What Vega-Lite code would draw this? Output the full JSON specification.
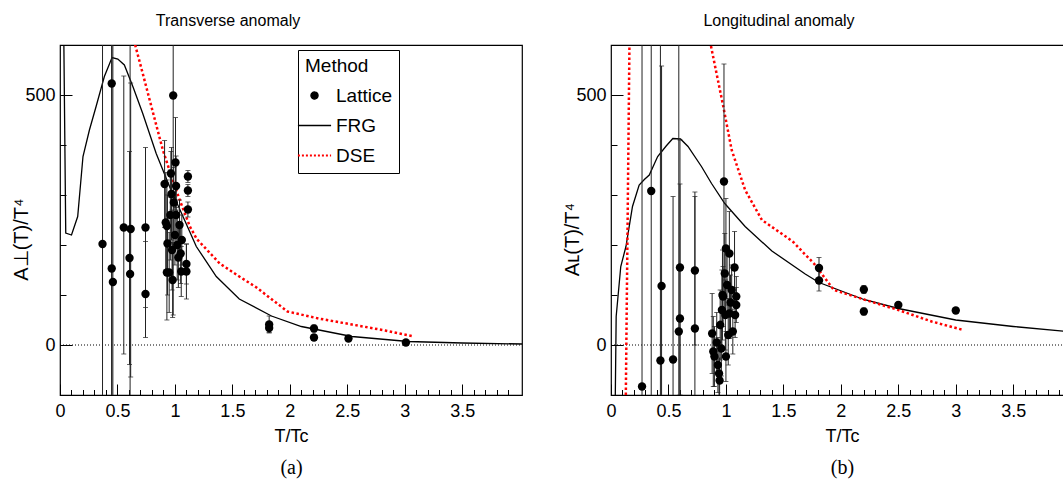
{
  "$schema": "https://vega.github.io/schema/vega-lite/v6.json",
  "padding": {"left": 10, "top": 12, "right": 5, "bottom": 2},
  "config": {
    "font": "Liberation Sans",
    "view": {"stroke": "black", "strokeWidth": 1.2},
    "axis": {"domain": false, "grid": false, "labelFont": "Liberation Sans", "titleFont": "Liberation Sans", "labelFontSize": 18, "titleFontSize": 18, "titleFontWeight": "normal", "labelColor": "black", "titleColor": "black", "tickColor": "black", "tickWidth": 1, "labelFlush": false, "labelOverlap": false},
    "title": {"font": "Liberation Sans", "fontSize": 16, "fontWeight": "normal", "color": "black"}
  },
  "spacing": 37,
  "resolve": {"scale": {"color": "independent"}, "legend": {"color": "independent"}},
  "datasets": {
    "one": [{}],
    "frgA": [
      {"T": 0.025, "A": 800}, {"T": 0.05, "A": 224}, {"T": 0.1, "A": 220}, {"T": 0.154, "A": 257}, {"T": 0.2, "A": 377}, {"T": 0.256, "A": 430}, {"T": 0.314, "A": 477}, {"T": 0.386, "A": 537}, {"T": 0.453, "A": 575}, {"T": 0.503, "A": 572}, {"T": 0.56, "A": 560}, {"T": 0.634, "A": 517}, {"T": 0.72, "A": 463}, {"T": 0.837, "A": 383}, {"T": 0.953, "A": 317}, {"T": 1.07, "A": 257}, {"T": 1.186, "A": 197}, {"T": 1.36, "A": 137}, {"T": 1.56, "A": 92}, {"T": 1.84, "A": 58}, {"T": 2.1, "A": 37}, {"T": 2.54, "A": 17}, {"T": 3.03, "A": 7}, {"T": 3.5, "A": 4}, {"T": 4.02, "A": 2}
    ],
    "dseA": [
      {"T": 0.63, "A": 650}, {"T": 0.654, "A": 600}, {"T": 0.72, "A": 543}, {"T": 0.81, "A": 464}, {"T": 0.895, "A": 390}, {"T": 0.98, "A": 330}, {"T": 1.05, "A": 285}, {"T": 1.1, "A": 255}, {"T": 1.13, "A": 237}, {"T": 1.19, "A": 212}, {"T": 1.39, "A": 163}, {"T": 1.56, "A": 137}, {"T": 1.71, "A": 115}, {"T": 1.85, "A": 90}, {"T": 1.98, "A": 67}, {"T": 2.25, "A": 53}, {"T": 2.54, "A": 41}, {"T": 2.83, "A": 29}, {"T": 3.08, "A": 17}
    ],
    "latA": [
      {"T": 0.37, "A": 202, "lo": -600, "hi": 1200},
      {"T": 0.45, "A": 523, "lo": -600, "hi": 1200},
      {"T": 0.45, "A": 153, "lo": -600, "hi": 1200},
      {"T": 0.46, "A": 126, "lo": -600, "hi": 1200},
      {"T": 0.555, "A": 235, "lo": -18, "hi": 538},
      {"T": 0.615, "A": 232, "lo": -64, "hi": 524},
      {"T": 0.605, "A": 174, "lo": -39, "hi": 387},
      {"T": 0.61, "A": 142, "lo": -600, "hi": 700},
      {"T": 0.744, "A": 235, "lo": 75, "hi": 395},
      {"T": 0.744, "A": 102, "lo": 15, "hi": 207},
      {"T": 0.91, "A": 322, "lo": 235, "hi": 409},
      {"T": 0.92, "A": 245, "lo": 150, "hi": 345},
      {"T": 0.93, "A": 238, "lo": 148, "hi": 330},
      {"T": 0.935, "A": 203, "lo": 100, "hi": 300},
      {"T": 0.93, "A": 145, "lo": 50, "hi": 245},
      {"T": 0.95, "A": 145, "lo": 65, "hi": 225},
      {"T": 0.96, "A": 260, "lo": 170, "hi": 350},
      {"T": 0.965, "A": 343, "lo": 295, "hi": 387},
      {"T": 0.97, "A": 302, "lo": 210, "hi": 395},
      {"T": 0.975, "A": 190, "lo": 110, "hi": 270},
      {"T": 0.98, "A": 130, "lo": 55, "hi": 205},
      {"T": 0.985, "A": 499, "lo": 60, "hi": 940},
      {"T": 0.99, "A": 285, "lo": 215, "hi": 355},
      {"T": 1.0, "A": 220, "lo": 160, "hi": 280},
      {"T": 1.005, "A": 365, "lo": 275, "hi": 455},
      {"T": 1.01, "A": 318, "lo": 258, "hi": 378},
      {"T": 1.01, "A": 260, "lo": 200, "hi": 320},
      {"T": 1.02, "A": 200, "lo": 130, "hi": 270},
      {"T": 1.03, "A": 175, "lo": 115, "hi": 235},
      {"T": 1.04, "A": 240, "lo": 190, "hi": 290},
      {"T": 1.05, "A": 183, "lo": 123, "hi": 243},
      {"T": 1.055, "A": 147, "lo": 97, "hi": 197},
      {"T": 1.06, "A": 210, "lo": 160, "hi": 260},
      {"T": 1.1, "A": 162, "lo": 122, "hi": 202},
      {"T": 1.1, "A": 147, "lo": 92, "hi": 202},
      {"T": 1.113, "A": 337, "lo": 325, "hi": 349},
      {"T": 1.113, "A": 309, "lo": 297, "hi": 321},
      {"T": 1.113, "A": 271, "lo": 256, "hi": 286},
      {"T": 1.82, "A": 41, "lo": 25, "hi": 58},
      {"T": 1.82, "A": 34, "lo": 24, "hi": 44},
      {"T": 2.21, "A": 33, "lo": 26, "hi": 40},
      {"T": 2.21, "A": 15, "lo": 9, "hi": 21},
      {"T": 2.51, "A": 13, "lo": 9, "hi": 17},
      {"T": 3.01, "A": 5, "lo": 1, "hi": 9}
    ],
    "frgB": [
      {"T": 0.035, "A": -150}, {"T": 0.045, "A": 57}, {"T": 0.085, "A": 157}, {"T": 0.13, "A": 197}, {"T": 0.187, "A": 277}, {"T": 0.245, "A": 320}, {"T": 0.29, "A": 331}, {"T": 0.333, "A": 340}, {"T": 0.406, "A": 377}, {"T": 0.48, "A": 398}, {"T": 0.538, "A": 413}, {"T": 0.605, "A": 412}, {"T": 0.67, "A": 397}, {"T": 0.787, "A": 357}, {"T": 0.875, "A": 323}, {"T": 0.99, "A": 283}, {"T": 1.167, "A": 237}, {"T": 1.4, "A": 188}, {"T": 1.69, "A": 142}, {"T": 1.81, "A": 125}, {"T": 2.2, "A": 91}, {"T": 2.5, "A": 73}, {"T": 3.0, "A": 50}, {"T": 3.5, "A": 37}, {"T": 4.02, "A": 26}
    ],
    "dseB": [
      {"T": 0.12, "A": -300}, {"T": 0.165, "A": 700}, {"T": 0.5, "A": 1500}, {"T": 0.84, "A": 700}, {"T": 0.868, "A": 600}, {"T": 0.977, "A": 477}, {"T": 1.05, "A": 390}, {"T": 1.167, "A": 310}, {"T": 1.313, "A": 250}, {"T": 1.52, "A": 217}, {"T": 1.59, "A": 205}, {"T": 1.693, "A": 180}, {"T": 1.766, "A": 163}, {"T": 1.94, "A": 110}, {"T": 2.2, "A": 91}, {"T": 2.5, "A": 70}, {"T": 2.79, "A": 47}, {"T": 3.05, "A": 31}
    ],
    "latB": [
      {"T": 0.27, "A": -83, "lo": -600, "hi": 1200},
      {"T": 0.35, "A": 308, "lo": -600, "hi": 1200},
      {"T": 0.44, "A": 118, "lo": -322, "hi": 558},
      {"T": 0.43, "A": -31, "lo": -600, "hi": 1200},
      {"T": 0.54, "A": -29, "lo": -355, "hi": 297},
      {"T": 0.6, "A": 155, "lo": -100, "hi": 410},
      {"T": 0.6, "A": 53, "lo": -216, "hi": 322},
      {"T": 0.59, "A": 27, "lo": -600, "hi": 1200},
      {"T": 0.73, "A": 149, "lo": 0, "hi": 297},
      {"T": 0.73, "A": 33, "lo": -240, "hi": 306},
      {"T": 0.88, "A": 23, "lo": -57, "hi": 103},
      {"T": 0.89, "A": -13, "lo": -83, "hi": 57},
      {"T": 0.9, "A": -23, "lo": -83, "hi": 37},
      {"T": 0.92, "A": 5, "lo": -55, "hi": 65},
      {"T": 0.93, "A": -40, "lo": -95, "hi": 15},
      {"T": 0.94, "A": -57, "lo": -107, "hi": -7},
      {"T": 0.945, "A": -71, "lo": -116, "hi": -26},
      {"T": 0.95, "A": 40, "lo": -30, "hi": 110},
      {"T": 0.96, "A": -7, "lo": -62, "hi": 48},
      {"T": 0.965, "A": 70, "lo": -10, "hi": 150},
      {"T": 0.97, "A": 100, "lo": 10, "hi": 190},
      {"T": 0.975, "A": 97, "lo": 37, "hi": 157},
      {"T": 0.983, "A": 327, "lo": 92, "hi": 562},
      {"T": 0.99, "A": 143, "lo": 63, "hi": 223},
      {"T": 0.995, "A": 60, "lo": -10, "hi": 130},
      {"T": 1.0, "A": 193, "lo": 93, "hi": 293},
      {"T": 1.0, "A": -23, "lo": -73, "hi": 27},
      {"T": 1.01, "A": 120, "lo": 60, "hi": 180},
      {"T": 1.02, "A": 20, "lo": -40, "hi": 80},
      {"T": 1.03, "A": 183, "lo": 93, "hi": 267},
      {"T": 1.03, "A": 63, "lo": 13, "hi": 113},
      {"T": 1.04, "A": 85, "lo": 30, "hi": 140},
      {"T": 1.05, "A": 110, "lo": 60, "hi": 160},
      {"T": 1.06, "A": 27, "lo": -18, "hi": 72},
      {"T": 1.075, "A": 155, "lo": 80, "hi": 227},
      {"T": 1.09, "A": 97, "lo": 57, "hi": 137},
      {"T": 1.09, "A": 80, "lo": 45, "hi": 115},
      {"T": 1.08, "A": 60, "lo": 15, "hi": 105},
      {"T": 1.81, "A": 154, "lo": 133, "hi": 175},
      {"T": 1.81, "A": 129, "lo": 108, "hi": 150},
      {"T": 2.2, "A": 111, "lo": 103, "hi": 119},
      {"T": 2.2, "A": 67, "lo": 60, "hi": 74},
      {"T": 2.5, "A": 80, "lo": 75, "hi": 85},
      {"T": 3.0, "A": 69, "lo": 64, "hi": 74}
    ]
  },
  "hconcat": [
    {
      "title": {"text": "Transverse anomaly", "frame": "group", "anchor": "middle", "dx": -63, "offset": 16},
      "width": 462,
      "height": 350,
      "resolve": {"axis": {"x": "independent", "y": "independent"}},
      "layer": [
        {
          "data": {"name": "one"},
          "mark": {"type": "rule", "color": "black", "strokeWidth": 1, "strokeDash": [1, 2]},
          "encoding": {
            "x": {"datum": 0, "type": "quantitative", "scale": {"domain": [0, 4.02], "nice": false, "zero": false}, "axis": null},
            "x2": {"datum": 4.02},
            "y": {"datum": 0, "type": "quantitative", "scale": {"domain": [-100, 600], "nice": false, "zero": false}, "axis": null}
          }
        },
        {
          "data": {"name": "frgA"},
          "mark": {"type": "line", "clip": true, "strokeWidth": 1.3},
          "encoding": {
            "x": {"field": "T", "type": "quantitative", "scale": {"domain": [0, 4.02], "nice": false, "zero": false},
                  "axis": {"orient": "bottom", "values": [0.1,0.2,0.3,0.4,0.6,0.7,0.8,0.9,1.1,1.2,1.3,1.4,1.6,1.7,1.8,1.9,2.1,2.2,2.3,2.4,2.6,2.7,2.8,2.9,3.1,3.2,3.3,3.4,3.6,3.7,3.8,3.9], "labels": false, "tickSize": -5.5, "title": "(a)", "titleFont": "Liberation Serif", "titleFontSize": 20, "titlePadding": 62}},
            "y": {"field": "A", "type": "quantitative", "scale": {"domain": [-100, 600], "nice": false, "zero": false},
                  "axis": {"orient": "left", "values": [100, 200, 300, 400], "labels": false, "tickSize": -6, "title": null}},
            "color": {
              "datum": "FRG", "type": "nominal",
              "scale": {"domain": ["Lattice", "FRG", "DSE"], "range": ["black", "black", "red"]},
              "legend": {
                "title": "Method",
                "orient": "none", "legendX": 238, "legendY": 5,
                "strokeColor": "black", "fillColor": "white", "padding": 7,
                "titleFont": "Liberation Sans", "titleFontSize": 19, "titleFontWeight": "normal", "titleColor": "black", "titlePadding": 10,
                "labelFont": "Liberation Sans", "labelFontSize": 19, "labelColor": "black", "labelOffset": 12,
                "symbolSize": 1100, "rowPadding": 10, "symbolStrokeWidth": 1.3,
                "encode": {
                  "symbols": {
                    "update": {
                      "shape": {"signal": "datum.value === 'Lattice' ? 'circle' : 'stroke'"},
                      "size": {"signal": "datum.value === 'Lattice' ? 50 : 1100"},
                      "fill": {"signal": "datum.value === 'Lattice' ? 'black' : 'transparent'"},
                      "stroke": {"signal": "datum.value === 'DSE' ? 'red' : (datum.value === 'FRG' ? 'black' : 'transparent')"},
                      "strokeDash": {"signal": "datum.value === 'DSE' ? [2, 2] : [1, 0]"},
                      "strokeWidth": {"signal": "datum.value === 'DSE' ? 2 : 1.3"}
                    }
                  }
                }
              }
            }
          }
        },
        {
          "data": {"name": "dseA"},
          "mark": {"type": "line", "clip": true, "strokeWidth": 2.5, "strokeDash": [2.5, 2.5]},
          "encoding": {
            "x": {"field": "T", "type": "quantitative", "scale": {"domain": [0, 4.02], "nice": false, "zero": false}, "axis": null},
            "y": {"field": "A", "type": "quantitative", "scale": {"domain": [-100, 600], "nice": false, "zero": false}, "axis": null},
            "color": {"datum": "DSE", "type": "nominal"}
          }
        },
        {
          "data": {"name": "latA"},
          "mark": {"type": "rule", "clip": true, "color": "#222222", "strokeWidth": 1},
          "encoding": {
            "x": {"field": "T", "type": "quantitative", "scale": {"domain": [0, 4.02], "nice": false, "zero": false}, "axis": null},
            "y": {"field": "lo", "type": "quantitative", "scale": {"domain": [-100, 600], "nice": false, "zero": false}, "axis": null},
            "y2": {"field": "hi"}
          }
        },
        {
          "data": {"name": "latA"},
          "mark": {"type": "tick", "clip": true, "color": "#222222", "orient": "horizontal", "size": 5, "thickness": 1},
          "encoding": {
            "x": {"field": "T", "type": "quantitative", "scale": {"domain": [0, 4.02], "nice": false, "zero": false}, "axis": null},
            "y": {"field": "lo", "type": "quantitative", "scale": {"domain": [-100, 600], "nice": false, "zero": false}, "axis": null}
          }
        },
        {
          "data": {"name": "latA"},
          "mark": {"type": "tick", "clip": true, "color": "#222222", "orient": "horizontal", "size": 5, "thickness": 1},
          "encoding": {
            "x": {"field": "T", "type": "quantitative", "scale": {"domain": [0, 4.02], "nice": false, "zero": false}, "axis": null},
            "y": {"field": "hi", "type": "quantitative", "scale": {"domain": [-100, 600], "nice": false, "zero": false}, "axis": null}
          }
        },
        {
          "data": {"name": "latA"},
          "mark": {"type": "point", "filled": true, "opacity": 1, "size": 70, "clip": true},
          "encoding": {
            "x": {"field": "T", "type": "quantitative", "scale": {"domain": [0, 4.02], "nice": false, "zero": false},
                  "axis": {"orient": "bottom", "values": [0, 0.5, 1, 1.5, 2, 2.5, 3, 3.5], "format": "~g", "tickSize": -11, "labelPadding": 18, "title": "T/Tc", "titlePadding": 7}},
            "y": {"field": "A", "type": "quantitative", "scale": {"domain": [-100, 600], "nice": false, "zero": false},
                  "axis": {"orient": "left", "values": [0, 500], "tickSize": -12, "labelPadding": 17, "title": "A⊥(T)/T⁴", "titleFontSize": 20, "titleX": -29, "titleY": 194}},
            "color": {"datum": "Lattice", "type": "nominal"}
          }
        }
      ]
    },
    {
      "title": {"text": "Longitudinal anomaly", "frame": "group", "anchor": "middle", "dx": -63, "offset": 16},
      "width": 462,
      "height": 350,
      "resolve": {"axis": {"x": "independent", "y": "independent"}},
      "layer": [
        {
          "data": {"name": "one"},
          "mark": {"type": "rule", "color": "black", "strokeWidth": 1, "strokeDash": [1, 2]},
          "encoding": {
            "x": {"datum": 0, "type": "quantitative", "scale": {"domain": [0, 4.02], "nice": false, "zero": false}, "axis": null},
            "x2": {"datum": 4.02},
            "y": {"datum": 0, "type": "quantitative", "scale": {"domain": [-100, 600], "nice": false, "zero": false}, "axis": null}
          }
        },
        {
          "data": {"name": "frgB"},
          "mark": {"type": "line", "clip": true, "strokeWidth": 1.3, "color": "black"},
          "encoding": {
            "x": {"field": "T", "type": "quantitative", "scale": {"domain": [0, 4.02], "nice": false, "zero": false},
                  "axis": {"orient": "bottom", "values": [0.1,0.2,0.3,0.4,0.6,0.7,0.8,0.9,1.1,1.2,1.3,1.4,1.6,1.7,1.8,1.9,2.1,2.2,2.3,2.4,2.6,2.7,2.8,2.9,3.1,3.2,3.3,3.4,3.6,3.7,3.8,3.9], "labels": false, "tickSize": -5.5, "title": "(b)", "titleFont": "Liberation Serif", "titleFontSize": 20, "titlePadding": 62}},
            "y": {"field": "A", "type": "quantitative", "scale": {"domain": [-100, 600], "nice": false, "zero": false},
                  "axis": {"orient": "left", "values": [100, 200, 300, 400], "labels": false, "tickSize": -6, "title": null}}
          }
        },
        {
          "data": {"name": "dseB"},
          "mark": {"type": "line", "clip": true, "strokeWidth": 2.5, "strokeDash": [2.5, 2.5], "color": "red"},
          "encoding": {
            "x": {"field": "T", "type": "quantitative", "scale": {"domain": [0, 4.02], "nice": false, "zero": false}, "axis": null},
            "y": {"field": "A", "type": "quantitative", "scale": {"domain": [-100, 600], "nice": false, "zero": false}, "axis": null}
          }
        },
        {
          "data": {"name": "latB"},
          "mark": {"type": "rule", "clip": true, "color": "#222222", "strokeWidth": 1},
          "encoding": {
            "x": {"field": "T", "type": "quantitative", "scale": {"domain": [0, 4.02], "nice": false, "zero": false}, "axis": null},
            "y": {"field": "lo", "type": "quantitative", "scale": {"domain": [-100, 600], "nice": false, "zero": false}, "axis": null},
            "y2": {"field": "hi"}
          }
        },
        {
          "data": {"name": "latB"},
          "mark": {"type": "tick", "clip": true, "color": "#222222", "orient": "horizontal", "size": 5, "thickness": 1},
          "encoding": {
            "x": {"field": "T", "type": "quantitative", "scale": {"domain": [0, 4.02], "nice": false, "zero": false}, "axis": null},
            "y": {"field": "lo", "type": "quantitative", "scale": {"domain": [-100, 600], "nice": false, "zero": false}, "axis": null}
          }
        },
        {
          "data": {"name": "latB"},
          "mark": {"type": "tick", "clip": true, "color": "#222222", "orient": "horizontal", "size": 5, "thickness": 1},
          "encoding": {
            "x": {"field": "T", "type": "quantitative", "scale": {"domain": [0, 4.02], "nice": false, "zero": false}, "axis": null},
            "y": {"field": "hi", "type": "quantitative", "scale": {"domain": [-100, 600], "nice": false, "zero": false}, "axis": null}
          }
        },
        {
          "data": {"name": "latB"},
          "mark": {"type": "point", "filled": true, "opacity": 1, "size": 70, "clip": true, "color": "black"},
          "encoding": {
            "x": {"field": "T", "type": "quantitative", "scale": {"domain": [0, 4.02], "nice": false, "zero": false},
                  "axis": {"orient": "bottom", "values": [0, 0.5, 1, 1.5, 2, 2.5, 3, 3.5], "format": "~g", "tickSize": -11, "labelPadding": 18, "title": "T/Tc", "titlePadding": 7}},
            "y": {"field": "A", "type": "quantitative", "scale": {"domain": [-100, 600], "nice": false, "zero": false},
                  "axis": {"orient": "left", "values": [0, 500], "tickSize": -12, "labelPadding": 17, "title": "Aʟ(T)/T⁴", "titleFontSize": 20, "titleX": -29, "titleY": 194}}
          }
        }
      ]
    }
  ]
}
